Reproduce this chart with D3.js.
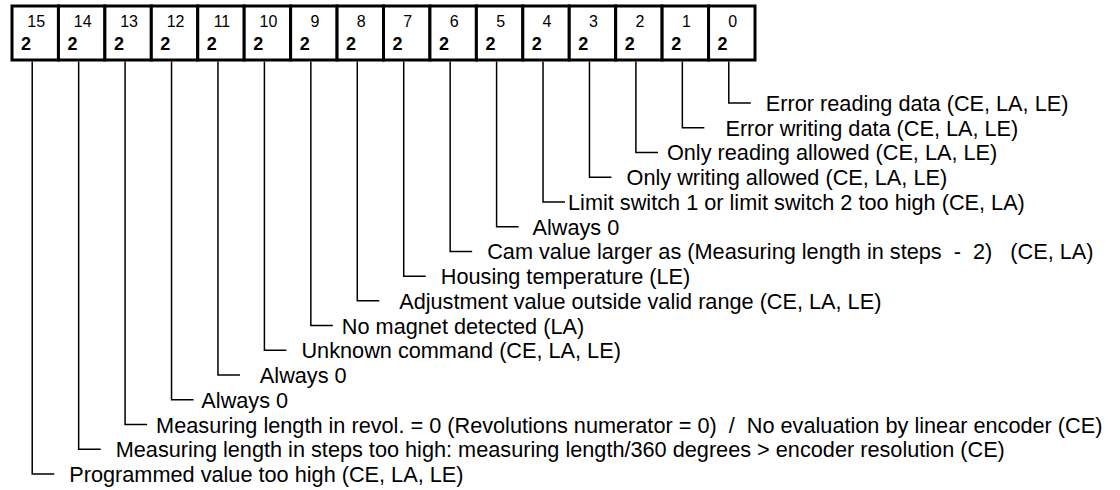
<!DOCTYPE html>
<html>
<head>
<meta charset="utf-8">
<script src="https://cdn.jsdelivr.net/npm/d3@7"></script>
<style>
  body { margin: 0; background: #fff; }
  svg { display: block; font-family: "Liberation Sans", Arial, sans-serif; }
</style>
</head>
<body>
<svg></svg>
<script>
// Bit positions of the status word, left to right
const bits = [15, 14, 13, 12, 11, 10, 9, 8, 7, 6, 5, 4, 3, 2, 1, 0];
const baseLabel = "2";

// One description per bit, same order as bits (leading spaces as in the original)
const descriptions = [
  "  Programmed value too high (CE, LA, LE)",
  "  Measuring length in steps too high: measuring length/360 degrees > encoder resolution (CE)",
  " Measuring length in revol. = 0 (Revolutions numerator = 0)  /  No evaluation by linear encoder (CE)",
  " Always 0",
  "   Always 0",
  "  Unknown command (CE, LA, LE)",
  " No magnet detected (LA)",
  "   Adjustment value outside valid range (CE, LA, LE)",
  "  Housing temperature (LE)",
  "  Cam value larger as (Measuring length in steps  -  2)   (CE, LA)",
  "  Always 0",
  "Limit switch 1 or limit switch 2 too high (CE, LA)",
  "  Only writing allowed (CE, LA, LE)",
  " Only reading allowed (CE, LA, LE)",
  "   Error writing data (CE, LA, LE)",
  "  Error reading data (CE, LA, LE)"
];

const width = 1120, height = 490;
const box = { left: 12, right: 755, top: 6, bottom: 60 };

const svg = d3.select("svg").attr("width", width).attr("height", height);

// Cells across, label rows down (bit 0 on top)
const x = d3.scaleBand().domain(bits).range([box.left, box.right]);
const y = d3.scalePoint().domain(bits.slice().reverse()).range([103, 474]);
const bw = x.bandwidth();
const leaderX = (d) => x(d) + bw / 2 - 3;

const rows = bits.map((b, i) => ({ bit: b, text: descriptions[i] }));

// Register cells
const cell = svg
  .append("g")
  .selectAll("g")
  .data(bits)
  .enter()
  .append("g");

cell
  .append("rect")
  .attr("x", (d) => x(d))
  .attr("y", box.top)
  .attr("width", bw)
  .attr("height", box.bottom - box.top)
  .attr("fill", "#fff")
  .attr("stroke", "#000")
  .attr("stroke-width", 3);

cell
  .append("text")
  .attr("x", (d) => x(d) + bw / 2 + 1)
  .attr("y", 27)
  .attr("text-anchor", "middle")
  .style("font-size", "16px")
  .text((d) => d);

cell
  .append("text")
  .attr("x", (d) => x(d) + 9)
  .attr("y", 50)
  .style("font-size", "18px")
  .style("font-weight", "bold")
  .text(baseLabel);

// Leader lines
svg
  .append("g")
  .selectAll("path")
  .data(rows)
  .enter()
  .append("path")
  .attr("d", (d) => {
    const lx = leaderX(d.bit);
    return `M${lx},${box.bottom + 1.5}V${y(d.bit)}H${lx + 22}`;
  })
  .attr("fill", "none")
  .attr("stroke", "#000")
  .attr("stroke-width", 1.5);

// Descriptions
svg
  .append("g")
  .selectAll("text")
  .data(rows)
  .enter()
  .append("text")
  .attr("x", (d) => leaderX(d.bit) + 25)
  .attr("y", (d) => y(d.bit) + 8)
  .style("font-size", "21.7px")
  .style("white-space", "pre")
  .text((d) => d.text);
</script>
</body>
</html>
